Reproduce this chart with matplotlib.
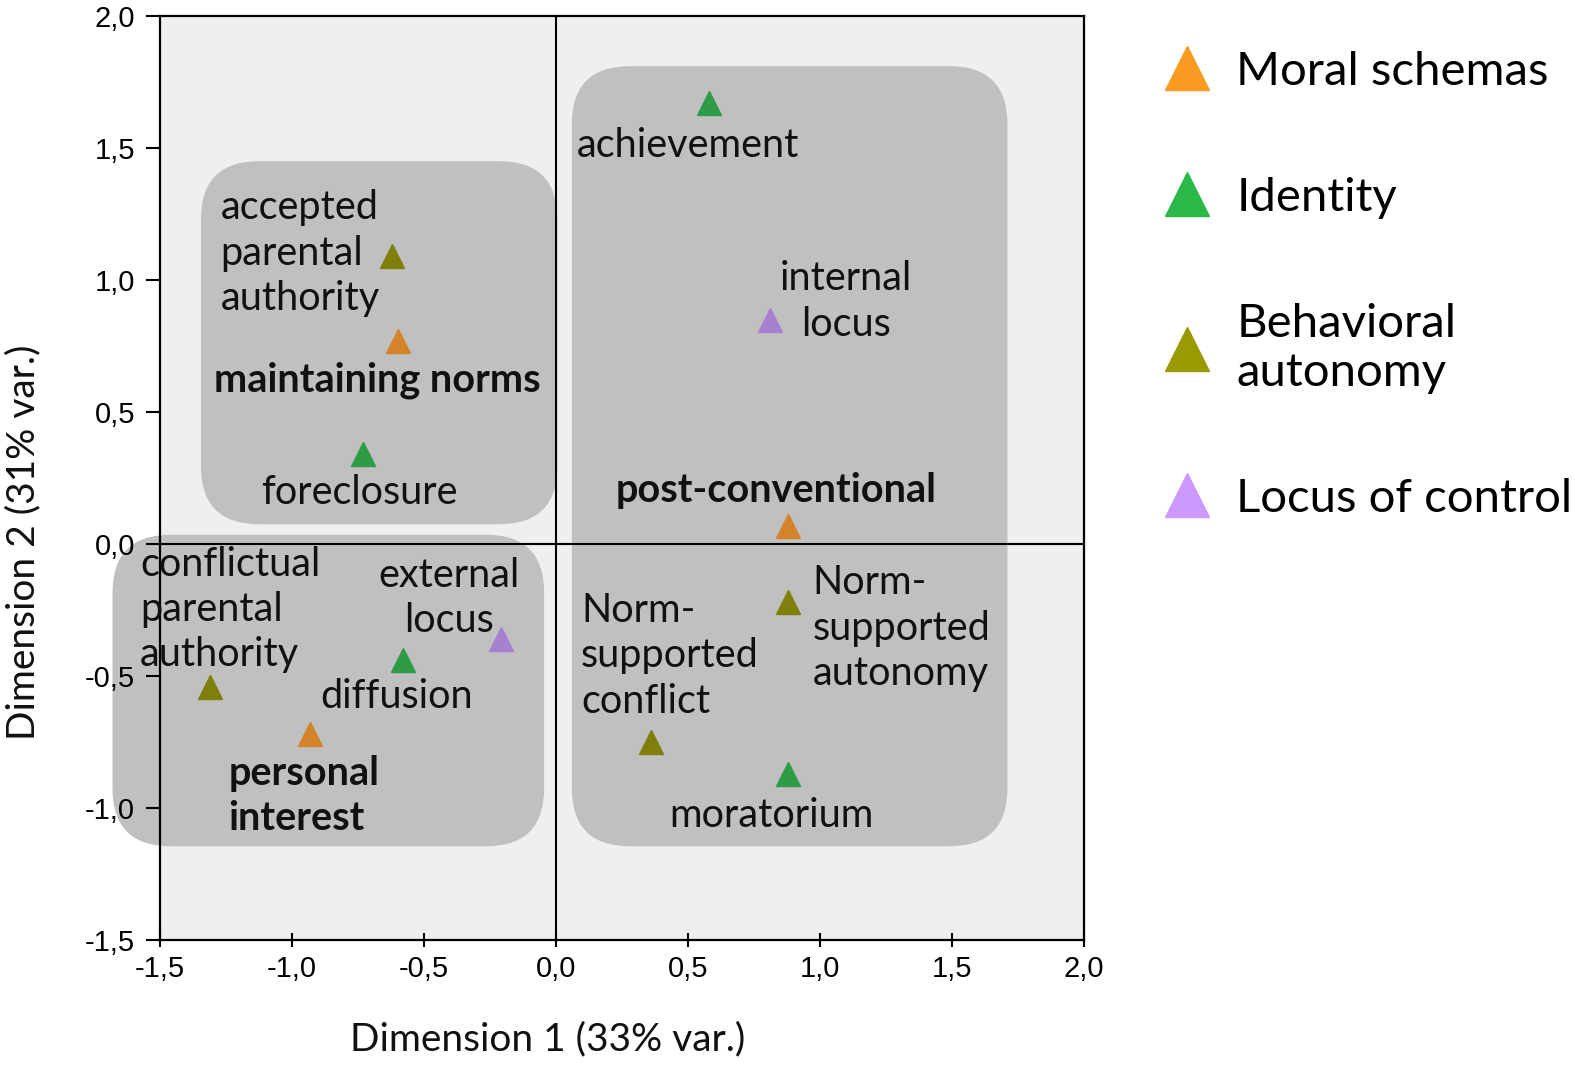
import matplotlib.pyplot as plt
from matplotlib.patches import FancyBboxPatch
from matplotlib.lines import Line2D

# puntos del analisis (dimension 1, dimension 2)
etiquetas = ["achievement", "internal\nlocus", "accepted\nparental\nauthority",
             "maintaining norms", "foreclosure", "post-conventional",
             "Norm-\nsupported\nautonomy", "Norm-\nsupported\nconflict", "moratorium",
             "external\nlocus", "diffusion", "conflictual\nparental\nauthority",
             "personal\ninterest"]
dim1 = [0.58, 0.81, -0.62, -0.60, -0.73, 0.88, 0.88, 0.36, 0.88, -0.21, -0.58, -1.31, -0.93]
dim2 = [1.67, 0.85, 1.09, 0.77, 0.34, 0.07, -0.22, -0.75, -0.87, -0.36, -0.44, -0.54, -0.72]
grupos = ["Identity", "Locus of control", "Behavioral autonomy", "Moral schemas",
          "Identity", "Moral schemas", "Behavioral autonomy", "Behavioral autonomy",
          "Identity", "Locus of control", "Identity", "Behavioral autonomy", "Moral schemas"]
negrita = [False, False, False, True, False, True, False, False, False, False, False, False, True]

categorias = ["Moral schemas", "Identity", "Behavioral autonomy", "Locus of control"]
nombres_leyenda = ["Moral schemas", "Identity", "Behavioral\nautonomy", "Locus of control"]

# zonas agrupadas (x0, y0, x1, y1)
zonas = [(-1.345, 0.075, 0.005, 1.45),
         (-1.68, -1.145, -0.045, 0.035),
         (0.06, -1.145, 1.71, 1.81)]

ticks = [-1.5, -1.0, -0.5, 0.0, 0.5, 1.0, 1.5, 2.0]

# estilo
color_punto = {"Moral schemas": "#d3832a", "Identity": "#2e9b47",
               "Behavioral autonomy": "#7f7f0c", "Locus of control": "#a880d2"}
color_leyenda = {"Moral schemas": "#f99b21", "Identity": "#2db84a",
                 "Behavioral autonomy": "#999900", "Locus of control": "#cc99ff"}
# desplazamiento de cada etiqueta en pixeles (dx, dy, alineacion)
desplaz = [(-132, -42, "left"), (76, 18, "center"), (-172, 3, "left"),
           (-20, -40, "center"), (-4, -38, "center"), (-12, 35, "center"),
           (24, -26, "left"), (-70, 86, "left"), (-17, -42, "center"),
           (-52, 41, "center"), (-6, -36, "center"), (-70, 77, "left"),
           (-82, -62, "left")]

fuente = "Lato"

fig = plt.figure(figsize=(15.75, 10.67), dpi=100)
ax = fig.add_axes([160 / 1575, 1 - 940 / 1067, 924 / 1575, 924 / 1067])
ax.set_facecolor("#efefef")
ax.set_xlim(-1.5, 2.0)
ax.set_ylim(-1.5, 2.0)

for x0, y0, x1, y1 in zonas:
    caja = FancyBboxPatch((x0, y0), x1 - x0, y1 - y0,
                          boxstyle="round,pad=0,rounding_size=0.22",
                          facecolor="#c0c0c0", edgecolor="none", zorder=1, clip_on=False)
    ax.add_patch(caja)

ax.axhline(0, color="black", lw=1.5, zorder=2)
ax.axvline(0, color="black", lw=1.5, zorder=2)

for i in range(len(etiquetas)):
    ax.plot(dim1[i], dim2[i], marker="^", ms=17, color=color_punto[grupos[i]],
            linestyle="none", zorder=3)
    dx, dy, ha = desplaz[i]
    ax.annotate(etiquetas[i], (dim1[i], dim2[i]), xytext=(dx, dy),
                textcoords="offset pixels", ha=ha, va="center",
                fontsize=28.5, family=fuente, linespacing=1.28,
                fontweight="bold" if negrita[i] else "normal", color="#111111",
                zorder=4, annotation_clip=False)

ax.set_xticks(ticks)
ax.set_yticks(ticks)
ax.set_xticklabels([f"{t:.1f}".replace(".", ",") for t in ticks])
ax.set_yticklabels([f"{t:.1f}".replace(".", ",") for t in ticks])
for lab in ax.get_xticklabels() + ax.get_yticklabels():
    lab.set_family("Liberation Sans")
    lab.set_fontsize(21)
ax.tick_params(axis="x", direction="inout", length=10, width=1.5, pad=6)
ax.tick_params(axis="y", direction="out", length=10, width=1.5, pad=8)
for s in ax.spines.values():
    s.set_linewidth(1.6)

ax.set_xlabel("Dimension 1 (33% var.)", family=fuente, fontsize=28, color="#111111")
ax.set_ylabel("Dimension 2 (31% var.)", family=fuente, fontsize=28, color="#111111")
ax.xaxis.set_label_coords(0.419, -0.088)
ax.yaxis.set_label_coords(-0.128, 0.43)

manejadores = [Line2D([], [], marker="^", ms=32, linestyle="none", color=color_leyenda[c])
               for c in categorias]
fig.legend(manejadores, nombres_leyenda, loc="upper left",
           bbox_to_anchor=(1142 / 1575, 1 - 32 / 1067), frameon=False,
           prop={"family": fuente, "size": 34}, labelspacing=1.78,
           handletextpad=0.5, borderaxespad=0, handlelength=1.1)

fig.savefig("out.png", dpi=100)
